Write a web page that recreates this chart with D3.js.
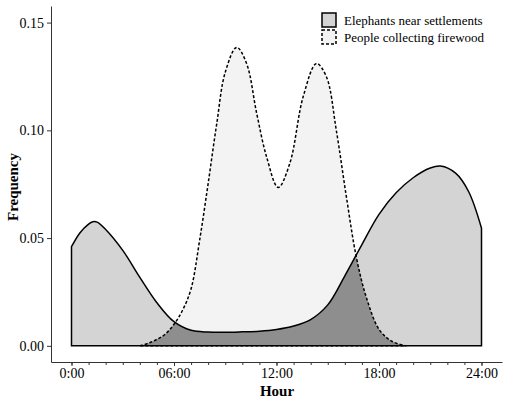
<!DOCTYPE html>
<html>
<head>
<meta charset="utf-8">
<script src="https://cdn.jsdelivr.net/npm/d3@7"></script>
<style>
    body { margin: 0; background: #fff; }
    text { font-family: "Liberation Serif", "Times New Roman", serif; fill: #000; }
</style>
</head>
<body>
<svg id="chart"></svg>
<script>
// elephants near settlements (solid)
const elephantHours = [0, 0.5, 1, 1.25, 1.5, 2, 3, 4, 5, 6, 7, 8, 9, 10, 11, 12, 13, 14, 15, 16, 17, 18, 19, 20, 21, 21.6, 22.5, 23.25, 24];
const elephantFreq = [0.046, 0.0525, 0.0565, 0.0576, 0.0574, 0.054, 0.0443, 0.0318, 0.020, 0.0112, 0.0072, 0.0064, 0.0063, 0.0065, 0.0068, 0.0076, 0.0092, 0.0122, 0.019, 0.0325, 0.047, 0.061, 0.071, 0.078, 0.0825, 0.0834, 0.0800, 0.0715, 0.0546];

// people collecting firewood (dashed)
const peopleHours = [4, 4.5, 5, 5.5, 6, 6.5, 7, 7.5, 8, 8.5, 9, 9.67, 10.25, 10.84, 11.42, 12.1, 12.78, 13.56, 14.34, 14.92, 15.5, 16.09, 16.67, 17.25, 18.03, 18.8, 19.6];
const peopleFreq = [0, 0.0012, 0.003, 0.0055, 0.010, 0.0165, 0.0265, 0.049, 0.0754, 0.103, 0.127, 0.1385, 0.131, 0.1079, 0.0877, 0.0735, 0.0847, 0.1156, 0.131, 0.1249, 0.1001, 0.0692, 0.0413, 0.0227, 0.0073, 0.0019, 0];

const xTicks = [0, 6, 12, 18, 24];
const xTickLabels = ['0:00', '06:00', '12:00', '18:00', '24:00'];
const yTicks = [0, 0.05, 0.10, 0.15];
const legendLabels = ['Elephants near settlements', 'People collecting firewood'];

const width = 510, height = 399;
const svg = d3.select('#chart').attr('width', width).attr('height', height);

const xscale = d3.scaleLinear().domain([-1.2, 25.2]).range([51, 502]);
const yscale = d3.scaleLinear().domain([-0.0075, 0.1577]).range([362, 6]);

const elephants = elephantHours.map((h, i) => ({ h: h, v: elephantFreq[i] }));
const people = peopleHours.map((h, i) => ({ h: h, v: peopleFreq[i] }));

const area = d3.area()
    .x(d => xscale(d.h))
    .y0(yscale(0))
    .y1(d => yscale(Math.max(0, d.v)))
    .curve(d3.curveCatmullRom.alpha(0.5));

const fillElephant = '#d4d4d4', fillPeople = '#f3f3f3', fillOverlap = '#8e8e8e';

svg.append('clipPath').attr('id', 'peopleClip')
    .append('path').attr('d', area(people));

svg.append('path').attr('d', area(people)).attr('fill', fillPeople);
svg.append('path').attr('d', area(elephants)).attr('fill', fillElephant);
// overlap of the two densities
svg.append('path').attr('d', area(elephants))
    .attr('fill', fillOverlap)
    .attr('clip-path', 'url(#peopleClip)');

svg.append('path').attr('d', area(elephants))
    .attr('fill', 'none').attr('stroke', '#000').attr('stroke-width', 1.5);
svg.append('path').attr('d', area(people))
    .attr('fill', 'none').attr('stroke', '#000').attr('stroke-width', 1.5)
    .attr('stroke-dasharray', '3,2');

// axes
const xaxis = d3.axisBottom(xscale)
    .tickValues(xTicks)
    .tickFormat((d, i) => xTickLabels[i])
    .tickSizeInner(4).tickSizeOuter(0).tickPadding(2);
const xminor = d3.axisBottom(xscale)
    .tickValues(d3.range(0, 25, 1))
    .tickFormat('')
    .tickSizeInner(3).tickSizeOuter(0);
const yaxis = d3.axisLeft(yscale)
    .tickValues(yTicks)
    .tickFormat(d3.format('.2f'))
    .tickSizeInner(4).tickSizeOuter(0).tickPadding(3);

const xg = svg.append('g').attr('transform', 'translate(0, 362)').call(xaxis);
svg.append('g').attr('transform', 'translate(0, 362)').call(xminor)
    .select('.domain').remove();
const yg = svg.append('g').attr('transform', 'translate(51, 0)').call(yaxis);

svg.selectAll('.tick line').attr('stroke', '#333');
svg.selectAll('.domain').attr('stroke', '#333');
xg.selectAll('text').style('font-size', '14px').style('font-family', '"Liberation Serif", serif').attr('fill', '#000');
yg.selectAll('text').style('font-size', '14px').style('font-family', '"Liberation Serif", serif').attr('fill', '#000');

svg.append('text')
    .attr('x', 277).attr('y', 396)
    .attr('text-anchor', 'middle')
    .style('font-size', '15px').style('font-weight', 'bold')
    .text('Hour');

svg.append('text')
    .attr('transform', 'translate(18, 187) rotate(-90)')
    .attr('text-anchor', 'middle')
    .style('font-size', '15px').style('font-weight', 'bold')
    .text('Frequency');

// legend
const legend = svg.append('g').attr('transform', 'translate(322, 13)');
const keyFills = [fillElephant, fillPeople];
const keyDash = [null, '3,2'];
legendLabels.forEach((lab, i) => {
    legend.append('rect')
        .attr('x', 0).attr('y', i * 17)
        .attr('width', 14).attr('height', 14)
        .attr('fill', keyFills[i])
        .attr('stroke', '#000').attr('stroke-width', 1.5)
        .attr('stroke-dasharray', keyDash[i]);
    legend.append('text')
        .attr('x', 22).attr('y', i * 17 + 12)
        .style('font-size', '13px')
        .text(lab);
});
</script>
</body>
</html>
